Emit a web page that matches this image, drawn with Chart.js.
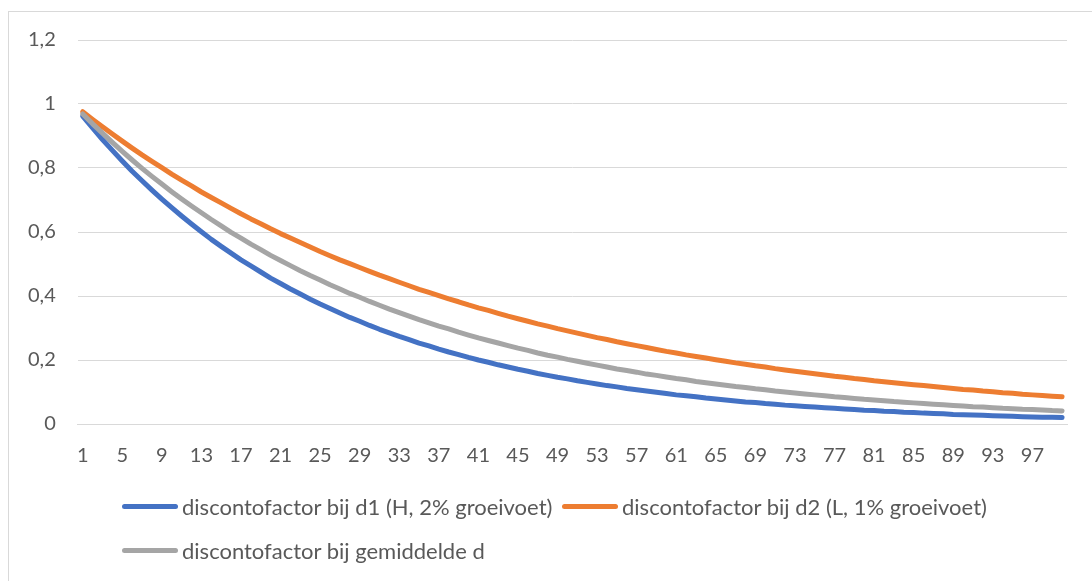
<!DOCTYPE html>
<html>
<head>
<meta charset="utf-8">
<script src="https://cdn.jsdelivr.net/npm/chart.js@4.4.1/dist/chart.umd.min.js"></script>
<style>
  html, body { margin: 0; padding: 0; background: #fff; }
  #wrap { position: relative; width: 1092px; height: 581px; overflow: hidden; font-family: Lato, "Liberation Sans", sans-serif; }
  #frame { position: absolute; left: 8px; top: 11px; width: 1300px; height: 800px; border: 1px solid #d9d9d9; }
  #c { position: absolute; left: 0; top: 0; }
  .item { position: absolute; height: 26px; line-height: 26px; font-size: 22px; color: #595959; white-space: nowrap; }
  .item i { position: absolute; left: 0; top: 10px; width: 56px; height: 5px; border-radius: 3px; }
  .item span { position: absolute; left: 60px; top: 0; }
</style>
</head>
<body>
<div id="wrap">
  <div id="frame"></div>
  <canvas id="c" width="1092" height="581"></canvas>
  <div id="legend"></div>
</div>
<script>
const labels = Array.from({length: 100}, (_, i) => String(i + 1));

const seriesNames = [
    "discontofactor bij d1 (H, 2% groeivoet)",
    "discontofactor bij d2 (L, 1% groeivoet)",
    "discontofactor bij gemiddelde d"
];
const seriesColors = ["#4472C4", "#ED7D31", "#A5A5A5"];

const d1 = [
    0.962, 0.925, 0.889, 0.855, 0.822, 0.790, 0.760, 0.731, 0.703, 0.676,
    0.650, 0.625, 0.601, 0.577, 0.555, 0.534, 0.513, 0.494, 0.475, 0.456,
    0.439, 0.422, 0.406, 0.390, 0.375, 0.361, 0.347, 0.333, 0.321, 0.308,
    0.296, 0.285, 0.274, 0.264, 0.253, 0.244, 0.234, 0.225, 0.217, 0.208,
    0.200, 0.193, 0.185, 0.178, 0.171, 0.165, 0.158, 0.152, 0.146, 0.141,
    0.135, 0.130, 0.125, 0.120, 0.116, 0.111, 0.107, 0.103, 0.099, 0.095,
    0.091, 0.088, 0.085, 0.081, 0.078, 0.075, 0.072, 0.069, 0.067, 0.064,
    0.062, 0.059, 0.057, 0.055, 0.053, 0.051, 0.049, 0.047, 0.045, 0.043,
    0.042, 0.040, 0.039, 0.037, 0.036, 0.034, 0.033, 0.032, 0.030, 0.029,
    0.028, 0.027, 0.026, 0.025, 0.024, 0.023, 0.022, 0.021, 0.021, 0.020
];
const d2 = [
    0.976, 0.952, 0.929, 0.906, 0.884, 0.862, 0.841, 0.821, 0.801, 0.781,
    0.762, 0.744, 0.725, 0.708, 0.691, 0.674, 0.657, 0.641, 0.626, 0.610,
    0.595, 0.581, 0.567, 0.553, 0.539, 0.526, 0.513, 0.501, 0.489, 0.477,
    0.465, 0.454, 0.443, 0.432, 0.421, 0.411, 0.401, 0.391, 0.382, 0.372,
    0.363, 0.355, 0.346, 0.337, 0.329, 0.321, 0.313, 0.306, 0.298, 0.291,
    0.284, 0.277, 0.270, 0.264, 0.257, 0.251, 0.245, 0.239, 0.233, 0.227,
    0.222, 0.216, 0.211, 0.206, 0.201, 0.196, 0.191, 0.187, 0.182, 0.178,
    0.173, 0.169, 0.165, 0.161, 0.157, 0.153, 0.149, 0.146, 0.142, 0.139,
    0.135, 0.132, 0.129, 0.126, 0.123, 0.120, 0.117, 0.114, 0.111, 0.108,
    0.106, 0.103, 0.101, 0.098, 0.096, 0.093, 0.091, 0.089, 0.087, 0.085
];
const dAvg = [
    0.969, 0.938, 0.909, 0.880, 0.852, 0.825, 0.799, 0.774, 0.750, 0.726,
    0.703, 0.681, 0.660, 0.639, 0.619, 0.599, 0.581, 0.562, 0.545, 0.527,
    0.511, 0.495, 0.479, 0.464, 0.450, 0.435, 0.422, 0.408, 0.396, 0.383,
    0.371, 0.359, 0.348, 0.337, 0.326, 0.316, 0.306, 0.297, 0.287, 0.278,
    0.269, 0.261, 0.253, 0.245, 0.237, 0.230, 0.222, 0.215, 0.209, 0.202,
    0.196, 0.190, 0.184, 0.178, 0.172, 0.167, 0.162, 0.156, 0.152, 0.147,
    0.142, 0.138, 0.133, 0.129, 0.125, 0.121, 0.117, 0.114, 0.110, 0.107,
    0.103, 0.100, 0.097, 0.094, 0.091, 0.088, 0.085, 0.083, 0.080, 0.077,
    0.075, 0.073, 0.070, 0.068, 0.066, 0.064, 0.062, 0.060, 0.058, 0.056,
    0.054, 0.053, 0.051, 0.049, 0.048, 0.046, 0.045, 0.044, 0.042, 0.041
];

const yTicks = [0, 0.2, 0.4, 0.6, 0.8, 1, 1.2];

const textColor = "#595959";
const gridColor = "#d9d9d9";
const font = { family: "Lato, 'Liberation Sans', sans-serif", size: 20 };

function lineSet(name, values, color, order) {
    return {
        label: name,
        data: values,
        borderColor: color,
        backgroundColor: color,
        borderWidth: 5,
        borderCapStyle: "round",
        borderJoinStyle: "round",
        pointRadius: 0,
        tension: 0,
        fill: false,
        order: order
    };
}

const chart = new Chart(document.getElementById("c").getContext("2d"), {
    type: "line",
    data: {
        labels: labels,
        datasets: [
            lineSet(seriesNames[0], d1, seriesColors[0], 2),
            lineSet(seriesNames[1], d2, seriesColors[1], 1),
            lineSet(seriesNames[2], dAvg, seriesColors[2], 0)
        ]
    },
    options: {
        responsive: false,
        animation: false,
        layout: { padding: { left: 6, right: 25, top: 40, bottom: 93 } },
        plugins: { legend: { display: false }, tooltip: { enabled: false } },
        scales: {
            x: {
                offset: true,
                grid: { display: false, drawTicks: false },
                border: { display: true, color: gridColor, width: 1 },
                ticks: {
                    autoSkip: false,
                    maxRotation: 0,
                    padding: 20,
                    color: textColor,
                    font: font,
                    callback: (v, i) => (i % 4 === 0 ? labels[i] : "")
                }
            },
            y: {
                min: 0,
                max: 1.2,
                afterBuildTicks: axis => { axis.ticks = yTicks.map(v => ({ value: v })); },
                grid: { color: gridColor, lineWidth: 1, drawTicks: false },
                border: { display: false },
                ticks: {
                    padding: 22,
                    color: textColor,
                    font: font,
                    callback: v => String(Math.round(v * 10) / 10).replace(".", ",")
                }
            }
        }
    }
});

// legend rows as in the original: two items, then one below
const legendPos = [
    { x: 122, y: 494 },
    { x: 562, y: 494 },
    { x: 122, y: 538 }
];
const legend = document.getElementById("legend");
seriesNames.forEach((name, i) => {
    const el = document.createElement("div");
    el.className = "item";
    el.style.left = legendPos[i].x + "px";
    el.style.top = legendPos[i].y + "px";
    el.innerHTML = '<i style="background:' + seriesColors[i] + '"></i><span>' + name + "</span>";
    legend.appendChild(el);
});
</script>
</body>
</html>
